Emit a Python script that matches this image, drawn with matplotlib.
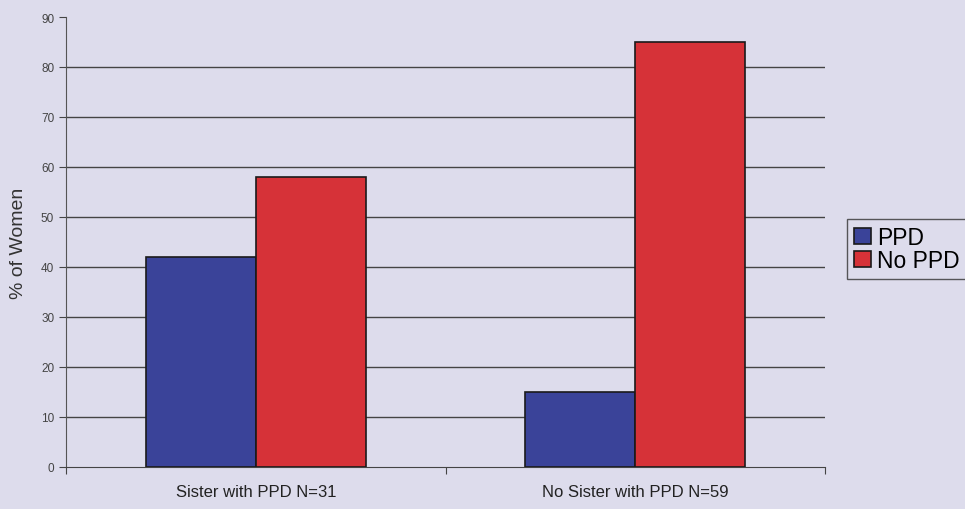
import numpy as np
import matplotlib.pyplot as plt

plt.rcParams['font.family'] = ['Liberation Sans', 'DejaVu Sans']

categories = ['Sister with PPD N=31', 'No Sister with PPD N=59']
ppd = [42, 15]
no_ppd = [58, 85]
yticks = [0, 10, 20, 30, 40, 50, 60, 70, 80, 90]

bg = '#dddcec'
fig = plt.figure(figsize=(9.65, 5.1), dpi=100, facecolor=bg)
ax = fig.add_axes([0.0684, 0.0824, 0.7866, 0.8823])
ax.set_facecolor(bg)

x = np.arange(len(categories))
w = 0.29
ax.bar(x - w / 2, ppd, w, color='#3a4399', edgecolor='#1a1a1a', linewidth=1.2, label='PPD', zorder=3)
ax.bar(x + w / 2, no_ppd, w, color='#d63238', edgecolor='#1a1a1a', linewidth=1.2, label='No PPD', zorder=3)

ax.set_xlim(-0.5, 1.5)
ax.set_ylim(0, 90)
ax.set_yticks(yticks)
# gridlines, none at the top value
for t in yticks[1:-1]:
    ax.axhline(t, color='#444444', linewidth=1.0, zorder=0)
ax.tick_params(axis='y', labelsize=8.5, colors='#444444', length=5, direction='out')
ax.set_xticks([-0.5, 0.5, 1.5], minor=False)
ax.set_xticklabels([])
ax.set_xticks(x, minor=True)
ax.set_xticklabels(categories, minor=True, fontsize=12, color='#222222')
ax.tick_params(axis='x', which='minor', length=0, pad=12)
ax.tick_params(axis='x', which='major', length=5, color='#444444')
for s in ['top', 'right']:
    ax.spines[s].set_visible(False)
ax.spines['left'].set_color('#555555')
ax.spines['bottom'].set_color('#444444')

ax.set_ylabel('% of Women', fontsize=14, color='#333333', labelpad=10)

leg = fig.legend(loc='upper left', bbox_to_anchor=(0.8777, 0.568), fontsize=16.5,
                 frameon=True, fancybox=False, edgecolor='#333333', facecolor=bg,
                 handlelength=0.75, handleheight=0.7, handletextpad=0.25, borderpad=0.3,
                 labelspacing=0.0, borderaxespad=0)
leg.get_frame().set_linewidth(1.0)

fig.savefig('out.png', dpi=100, facecolor=bg)
